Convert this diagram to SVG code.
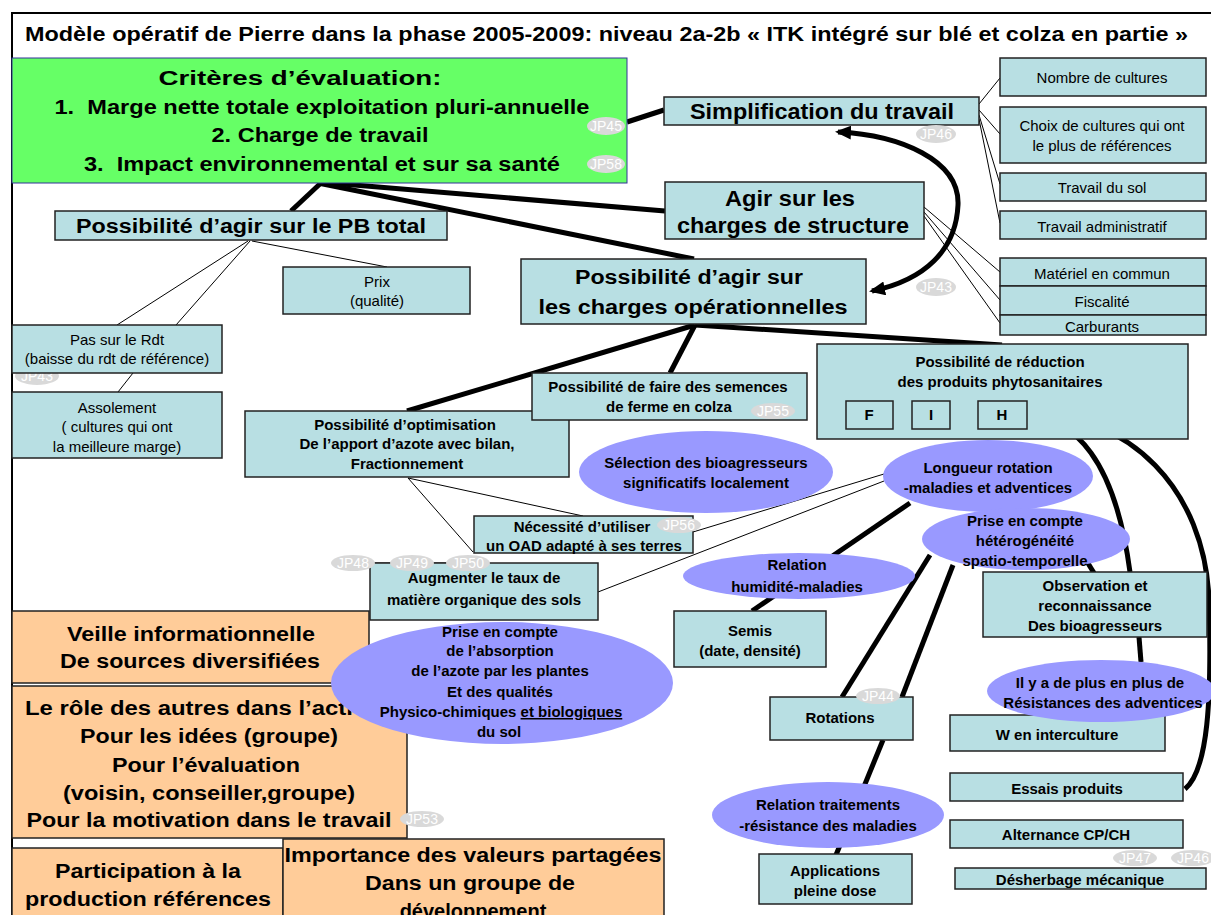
<svg xmlns="http://www.w3.org/2000/svg" width="1211" height="915" viewBox="0 0 1211 915">
<defs>
<style>
text{font-family:"Liberation Sans",Arial,sans-serif;fill:#000}
.box{fill:#b8dfe3;stroke:#222;stroke-width:1.5}
.org{fill:#ffcc99;stroke:#222;stroke-width:1.5}
.ell{fill:#9999ff;stroke:none}
.jp{fill:#d9d9d9;stroke:none}
.jpt{font-size:14px;fill:#fff;text-anchor:middle}
.n15{font-size:15px;text-anchor:middle}
.b15{font-size:15px;font-weight:bold;text-anchor:middle}
.b20{font-size:20px;font-weight:bold;text-anchor:middle}
.b22{font-size:22px;font-weight:bold;text-anchor:middle}
.thick{stroke:#000;stroke-width:5;fill:none}
.thin{stroke:#000;stroke-width:1;fill:none}
</style>
<marker id="ah" markerUnits="userSpaceOnUse" markerWidth="16" markerHeight="14" refX="13" refY="7" orient="auto-start-reverse">
<path d="M0,0 L16,7 L0,14 z" fill="#000"/>
</marker>
</defs>
<rect x="0" y="0" width="1211" height="915" fill="#fff"/>
<path d="M12,915 V13 H1211" fill="none" stroke="#000" stroke-width="2"/>
<text x="25" y="41" font-size="20" font-weight="bold" textLength="1163" lengthAdjust="spacingAndGlyphs">Modèle opératif de Pierre dans la phase 2005-2009: niveau 2a-2b « ITK intégré sur blé et colza en partie »</text>

<g id="jp43b"><ellipse class="jp" cx="37" cy="376" rx="22" ry="9"/><text class="jpt" x="37" y="381">JP43</text></g>

<g id="connectors">
<line class="thick" x1="322" y1="182" x2="291" y2="211"/>
<line class="thick" x1="318" y1="182" x2="665" y2="211"/>
<line class="thick" x1="318" y1="183" x2="694" y2="259"/>
<line class="thick" x1="627" y1="122" x2="664" y2="110"/>
<line class="thick" x1="695" y1="325" x2="407" y2="411"/>
<line class="thick" x1="695" y1="325" x2="670" y2="373"/>
<line class="thick" x1="695" y1="325" x2="1002" y2="345"/>
<line class="thick" x1="910" y1="503" x2="752" y2="611"/>
<line class="thick" x1="930" y1="555" x2="842" y2="697"/>
<line class="thick" x1="953" y1="565" x2="902" y2="697"/>
<line class="thick" x1="883" y1="740" x2="836" y2="855"/>
<line class="thick" x1="1139" y1="637" x2="1141" y2="662"/>
<line class="thick" x1="1086" y1="560" x2="1094" y2="573"/>
<path class="thick" d="M1027,416 C1075,418 1115,460 1130,572"/>
<path class="thick" d="M1027,413 C1130,413 1205,490 1209,600 C1212,700 1208,770 1185,789"/>
<path class="thick" stroke-width="4" d="M838,132 C900,135 960,160 958,205 C956,250 925,280 872,291" marker-start="url(#ah)" marker-end="url(#ah)"/>
<line class="thin" x1="979" y1="104" x2="1000" y2="78"/>
<line class="thin" x1="979" y1="110" x2="1000" y2="134"/>
<line class="thin" x1="979" y1="115" x2="1000" y2="184"/>
<line class="thin" x1="979" y1="119" x2="1000" y2="223"/>
<line class="thin" x1="924" y1="207" x2="1000" y2="272"/>
<line class="thin" x1="924" y1="212" x2="1000" y2="300"/>
<line class="thin" x1="924" y1="216" x2="1000" y2="323"/>
<line class="thin" x1="248" y1="241" x2="117" y2="325"/>
<line class="thin" x1="250" y1="241" x2="176" y2="325"/>
<line class="thin" x1="252" y1="241" x2="387" y2="267"/>
<line class="thin" x1="133" y1="373" x2="118" y2="392"/>
<line class="thin" x1="408" y1="478" x2="583" y2="516"/>
<line class="thin" x1="408" y1="478" x2="473" y2="552"/>
<line class="thin" x1="693" y1="532" x2="884" y2="474"/>
<line class="thin" x1="598" y1="592" x2="884" y2="481"/>
<line x1="372" y1="563" x2="393" y2="563" stroke="#555" stroke-width="1.5"/>
<line x1="431" y1="563" x2="449" y2="563" stroke="#555" stroke-width="1.5"/>
</g>

<g id="criteres">
<rect x="12" y="58" width="615" height="125" fill="#66ff66" stroke="#333399" stroke-width="1"/>
<text class="b20" x="300" y="85" textLength="283" lengthAdjust="spacingAndGlyphs">Critères d’évaluation:</text>
<text class="b20" x="322" y="114" textLength="535" lengthAdjust="spacingAndGlyphs" xml:space="preserve">1.  Marge nette totale exploitation pluri-annuelle</text>
<text class="b20" x="320" y="142" textLength="217" lengthAdjust="spacingAndGlyphs">2. Charge de travail</text>
<text class="b20" x="322" y="171" textLength="476" lengthAdjust="spacingAndGlyphs" xml:space="preserve">3.  Impact environnemental et sur sa santé</text>
</g>

<g id="simplification">
<rect class="box" x="664" y="97" width="315" height="28"/>
<text class="b22" x="822" y="119" textLength="264" lengthAdjust="spacingAndGlyphs">Simplification du travail</text>
</g>

<g id="agir-structure">
<rect class="box" x="665" y="182" width="259" height="57"/>
<text class="b22" x="790" y="206" textLength="130" lengthAdjust="spacingAndGlyphs">Agir sur les</text>
<text class="b22" x="793" y="233" textLength="232" lengthAdjust="spacingAndGlyphs">charges de structure</text>
</g>

<g id="pb-total">
<rect class="box" x="55" y="211" width="392" height="29"/>
<text class="b20" x="251" y="233" textLength="350" lengthAdjust="spacingAndGlyphs">Possibilité d’agir sur le PB total</text>
</g>

<g id="charges-op">
<rect class="box" x="521" y="259" width="345" height="65"/>
<text class="b20" x="689" y="284" textLength="228" lengthAdjust="spacingAndGlyphs">Possibilité d’agir sur</text>
<text class="b20" x="693" y="314" textLength="309" lengthAdjust="spacingAndGlyphs">les charges opérationnelles</text>
</g>

<g id="nombre"><rect class="box" x="1000" y="58" width="206" height="38"/><text class="n15" x="1102" y="83">Nombre de cultures</text></g>
<g id="choix"><rect class="box" x="1000" y="107" width="206" height="56"/><text class="n15" x="1102" y="131">Choix de cultures qui ont</text><text class="n15" x="1102" y="151">le plus de références</text></g>
<g id="travail-sol"><rect class="box" x="1000" y="173" width="206" height="28"/><text class="n15" x="1102" y="193">Travail du sol</text></g>
<g id="travail-admin"><rect class="box" x="1000" y="211" width="206" height="28"/><text class="n15" x="1102" y="232">Travail administratif</text></g>
<g id="materiel"><rect class="box" x="1000" y="258" width="206" height="28"/><text class="n15" x="1102" y="279">Matériel en commun</text></g>
<g id="fiscalite"><rect class="box" x="1000" y="286" width="206" height="29"/><text class="n15" x="1102" y="307">Fiscalité</text></g>
<g id="carburants"><rect class="box" x="1000" y="315" width="206" height="20"/><text class="n15" x="1102" y="332">Carburants</text></g>

<g id="prix"><rect class="box" x="283" y="267" width="187" height="47"/><text class="n15" x="377" y="287">Prix</text><text class="n15" x="377" y="306">(qualité)</text></g>
<g id="pas-rdt"><rect class="box" x="12" y="325" width="210" height="48"/><text class="n15" x="117" y="345">Pas sur le Rdt</text><text class="n15" x="117" y="364">(baisse du rdt de référence)</text></g>
<g id="assolement"><rect class="box" x="12" y="392" width="210" height="66"/><text class="n15" x="117" y="413">Assolement</text><text class="n15" x="117" y="432">( cultures qui ont</text><text class="n15" x="117" y="452">la meilleure marge)</text></g>

<g id="optimisation"><rect class="box" x="245" y="411" width="324" height="66"/><text class="b15" x="405" y="430">Possibilité d’optimisation</text><text class="b15" x="407" y="449">De l’apport d’azote avec bilan,</text><text class="b15" x="407" y="469">Fractionnement</text></g>

<g id="semences"><rect class="box" x="532" y="373" width="275" height="47"/><text class="b15" x="668" y="392">Possibilité de faire des semences</text><text class="b15" x="669" y="412">de ferme en colza</text></g>

<g id="phyto"><rect class="box" x="817" y="344" width="371" height="95"/><text class="b15" x="1000" y="367">Possibilité de réduction</text><text class="b15" x="1000" y="387">des produits phytosanitaires</text>
<rect x="846" y="401" width="47" height="28" fill="none" stroke="#222" stroke-width="1.5"/><text class="b15" x="869" y="420">F</text>
<rect x="912" y="401" width="38" height="28" fill="none" stroke="#222" stroke-width="1.5"/><text class="b15" x="931" y="420">I</text>
<rect x="978" y="401" width="49" height="28" fill="none" stroke="#222" stroke-width="1.5"/><text class="b15" x="1002" y="420">H</text>
</g>

<g id="selection"><ellipse class="ell" cx="706" cy="472" rx="127" ry="41"/><text class="b15" x="706" y="468">Sélection des bioagresseurs</text><text class="b15" x="706" y="488">significatifs localement</text></g>
<g id="longueur"><ellipse class="ell" cx="988" cy="476" rx="105" ry="36"/><text class="b15" x="988" y="473">Longueur rotation</text><text class="b15" x="988" y="493">-maladies et adventices</text></g>
<g id="heterogeneite"><ellipse class="ell" cx="1026" cy="539" rx="104" ry="31"/><text class="b15" x="1025" y="526">Prise en compte</text><text class="b15" x="1025" y="546">hétérogénéité</text><text class="b15" x="1025" y="566">spatio-temporelle</text></g>

<g id="necessite"><rect class="box" x="474" y="516" width="219" height="37"/><text class="b15" x="582" y="532">Nécessité d’utiliser</text><text class="b15" x="584" y="551">un OAD adapté à ses terres</text></g>
<g id="augmenter"><rect class="box" x="370" y="563" width="228" height="57"/><text class="b15" x="484" y="583">Augmenter le taux de</text><text class="b15" x="484" y="605">matière organique des sols</text></g>

<g id="humidite"><ellipse class="ell" cx="799" cy="576" rx="116" ry="23"/><text class="b15" x="797" y="570">Relation</text><text class="b15" x="797" y="592">humidité-maladies</text></g>
<g id="semis"><rect class="box" x="674" y="611" width="152" height="56"/><text class="b15" x="750" y="636">Semis</text><text class="b15" x="750" y="656">(date, densité)</text></g>
<g id="observation"><rect class="box" x="983" y="572" width="224" height="65"/><text class="b15" x="1095" y="591">Observation et</text><text class="b15" x="1095" y="611">reconnaissance</text><text class="b15" x="1095" y="631">Des bioagresseurs</text></g>
<g id="rotations"><rect class="box" x="770" y="697" width="143" height="43"/><text class="b15" x="840" y="723">Rotations</text></g>
<g id="w-interculture"><rect class="box" x="950" y="715" width="215" height="36"/><text class="b15" x="1057" y="740">W en interculture</text></g>
<g id="resistances"><ellipse class="ell" cx="1101" cy="691" rx="114" ry="31"/><text class="b15" x="1100" y="688">Il y a de plus en plus de</text><text class="b15" x="1103" y="708">Résistances des adventices</text></g>
<g id="essais"><rect class="box" x="950" y="773" width="233" height="28"/><text class="b15" x="1067" y="794">Essais produits</text></g>
<g id="alternance"><rect class="box" x="950" y="820" width="233" height="28"/><text class="b15" x="1066" y="840">Alternance CP/CH</text></g>
<g id="desherbage"><rect class="box" x="955" y="868" width="251" height="21"/><text class="b15" x="1080" y="885">Désherbage mécanique</text></g>
<g id="traitements"><ellipse class="ell" cx="828" cy="815" rx="116" ry="33"/><text class="b15" x="828" y="810">Relation traitements</text><text class="b15" x="828" y="831">-résistance des maladies</text></g>
<g id="applications"><rect class="box" x="759" y="854" width="153" height="50"/><text class="b15" x="835" y="876">Applications</text><text class="b15" x="835" y="896">pleine dose</text></g>

<g id="veille"><rect class="org" x="12" y="611" width="357" height="72"/><text class="b20" x="191" y="641" textLength="248" lengthAdjust="spacingAndGlyphs">Veille informationnelle</text><text class="b20" x="190" y="668" textLength="260" lengthAdjust="spacingAndGlyphs">De sources diversifiées</text></g>
<g id="role"><rect class="org" x="12" y="686" width="395" height="152"/>
<text class="b20" x="25" y="715" style="text-anchor:start" textLength="369" lengthAdjust="spacingAndGlyphs">Le rôle des autres dans l’activité</text>
<text class="b20" x="209" y="743" textLength="258" lengthAdjust="spacingAndGlyphs">Pour les idées (groupe)</text>
<text class="b20" x="206" y="772" textLength="188" lengthAdjust="spacingAndGlyphs">Pour l’évaluation</text>
<text class="b20" x="209" y="800" textLength="292" lengthAdjust="spacingAndGlyphs">(voisin, conseiller,groupe)</text>
<text class="b20" x="209" y="827" textLength="365" lengthAdjust="spacingAndGlyphs">Pour la motivation dans le travail</text></g>
<g id="participation"><rect class="org" x="12" y="848" width="271" height="80"/><text class="b20" x="148" y="878" textLength="186" lengthAdjust="spacingAndGlyphs">Participation à la</text><text class="b20" x="148" y="906" textLength="246" lengthAdjust="spacingAndGlyphs">production références</text></g>
<g id="importance"><rect class="org" x="283" y="839" width="381" height="90"/><text class="b20" x="473" y="862" textLength="377" lengthAdjust="spacingAndGlyphs">Importance des valeurs partagées</text><text class="b20" x="470" y="890" textLength="210" lengthAdjust="spacingAndGlyphs">Dans un groupe de</text><text class="b20" x="473" y="918">développement</text></g>

<g id="absorption"><ellipse class="ell" cx="502" cy="683" rx="171" ry="61"/>
<text class="b15" x="500" y="637">Prise en compte</text>
<text class="b15" x="500" y="656">de l’absorption</text>
<text class="b15" x="500" y="676">de l’azote par les plantes</text>
<text class="b15" x="500" y="697">Et des qualités</text>
<text class="b15" x="501" y="717">Physico-chimiques <tspan text-decoration="underline">et biologiques</tspan></text>
<text class="b15" x="499" y="737">du sol</text></g>

<g id="jp-tags">
<g><ellipse class="jp" cx="606" cy="126" rx="19" ry="9"/><text class="jpt" x="606" y="131">JP45</text></g>
<g><ellipse class="jp" cx="606" cy="164" rx="19" ry="9"/><text class="jpt" x="606" y="169">JP58</text></g>
<g><ellipse class="jp" cx="936" cy="134" rx="20" ry="9"/><text class="jpt" x="936" y="139">JP46</text></g>
<g><ellipse class="jp" cx="936" cy="287" rx="20" ry="9"/><text class="jpt" x="936" y="292">JP43</text></g>
<g><ellipse class="jp" cx="773" cy="411" rx="22" ry="8"/><text class="jpt" x="773" y="416">JP55</text></g>
<g><ellipse class="jp" cx="679" cy="525" rx="22" ry="8"/><text class="jpt" x="679" y="530">JP56</text></g>
<g><ellipse class="jp" cx="353" cy="563" rx="22" ry="8"/><text class="jpt" x="353" y="568">JP48</text></g>
<g><ellipse class="jp" cx="412" cy="563" rx="22" ry="8"/><text class="jpt" x="412" y="568">JP49</text></g>
<g><ellipse class="jp" cx="468" cy="563" rx="22" ry="8"/><text class="jpt" x="468" y="568">JP50</text></g>
<g><ellipse class="jp" cx="878" cy="696" rx="22" ry="8"/><text class="jpt" x="878" y="701">JP44</text></g>
<g><ellipse class="jp" cx="422" cy="819" rx="22" ry="8"/><text class="jpt" x="422" y="824">JP53</text></g>
<g><ellipse class="jp" cx="1135" cy="858" rx="22" ry="8"/><text class="jpt" x="1135" y="863">JP47</text></g>
<g><ellipse class="jp" cx="1193" cy="858" rx="22" ry="8"/><text class="jpt" x="1193" y="863">JP46</text></g>
</g>
</svg>
